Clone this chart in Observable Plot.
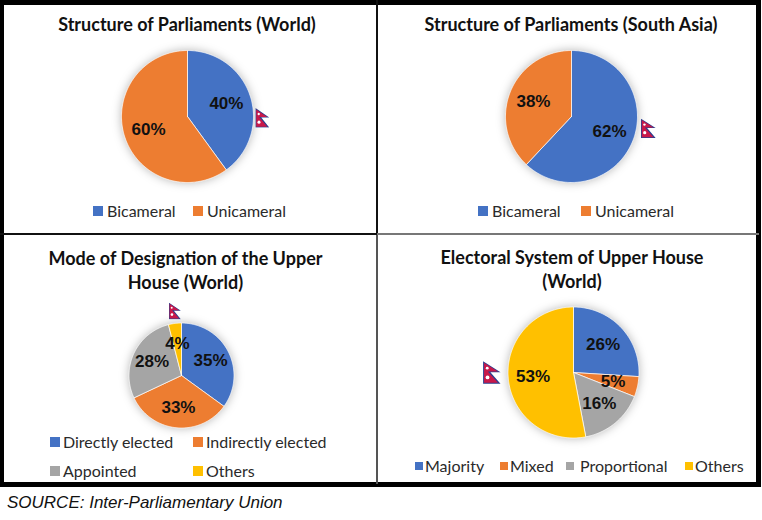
<!DOCTYPE html>
<html>
<head>
<meta charset="utf-8">
<script src="https://cdn.jsdelivr.net/npm/d3@7"></script>
<script src="https://cdn.jsdelivr.net/npm/@observablehq/plot@0.6"></script>
<style>
  body { margin: 0; background: #fff; }
  #root { position: relative; width: 762px; height: 520px; overflow: hidden; font-family: Lato, "Open Sans", sans-serif; }
  .frame { position: absolute; left: 0; top: 0; width: 761px; height: 487px; box-sizing: border-box;
           border-style: solid; border-color: #000; border-width: 5px 5px 5px 4px; }
  .div { position: absolute; }
  .title { position: absolute; font-weight: bold; font-size: 18px; text-align: center; color: #111; line-height: 24px; white-space: nowrap; }
  .legend { position: absolute; font-size: 16px; color: #2a2a2a; white-space: nowrap; line-height: 20px; }
  .sw { position: absolute; }
  .pie { position: absolute; width: 200px; height: 200px; }
  .pie g[aria-label="line"] { filter: drop-shadow(0 0 5px rgba(0,0,0,0.28)); }
  .source { position: absolute; left: 7px; top: 493px; font-family: "Liberation Sans", Arial, sans-serif; font-style: italic; font-size: 17px; color: #111; }
</style>
</head>
<body>
<div id="root"></div>
<script>
// ---------- data ----------
const palette = ["#4472C4", "#ED7D31", "#A5A5A5", "#FFC000"];

const worldStructureLabels = ["Bicameral", "Unicameral"];
const worldStructureValues = [40, 60];

const southAsiaStructureLabels = ["Bicameral", "Unicameral"];
const southAsiaStructureValues = [62, 38];

const designationLabels = ["Directly elected", "Indirectly elected", "Appointed", "Others"];
const designationValues = [35, 33, 28, 4];

const electoralLabels = ["Majority", "Mixed", "Proportional", "Others"];
const electoralValues = [26, 5, 16, 53];

const titles = [
  "Structure of Parliaments (World)",
  "Structure of Parliaments (South Asia)",
  "Mode of Designation of the Upper<br>House (World)",
  "Electoral System of Upper House<br>(World)"
];
const sourceText = "SOURCE: Inter-Parliamentary Union";

// ---------- Nepal flag (decoration) ----------
const flagSvg = `<svg xmlns="http://www.w3.org/2000/svg" viewBox="0 0 60 74">
<path d="M1,1 L56,36 L24,36 L56,73 L1,73 Z" fill="#2b3f8f"/>
<path d="M4,6 L48,34 L16,34 L48,70 L4,70 Z" fill="#C8184A"/>
<circle cx="14" cy="23" r="4.5" fill="#fff"/>
<circle cx="15" cy="53" r="6" fill="#fff"/>
</svg>`;
const flagSrc = "data:image/svg+xml," + encodeURIComponent(flagSvg);

const root = document.getElementById("root");

function add(html, cls, style) {
  const d = document.createElement("div");
  d.className = cls;
  Object.assign(d.style, style);
  d.innerHTML = html;
  root.appendChild(d);
  return d;
}

function pie({labels, values, cx, cy, r, flag, flagW, flagH}) {
  const total = d3.sum(values);
  let acc = 0;
  const slices = values.map((v, i) => {
    const a0 = acc / total * 2 * Math.PI;
    acc += v;
    const a1 = acc / total * 2 * Math.PI;
    return {label: labels[i], value: v, a0, a1};
  });
  const pts = [];
  for (const s of slices) {
    const n = Math.max(2, Math.ceil((s.a1 - s.a0) / (Math.PI / 180)));
    pts.push({label: s.label, x: 0, y: 0});
    for (let k = 0; k <= n; k++) {
      const a = s.a0 + (s.a1 - s.a0) * k / n;
      pts.push({label: s.label, x: Math.sin(a), y: Math.cos(a)});
    }
    pts.push({label: s.label, x: 0, y: 0});
  }
  const lbls = slices.map(s => {
    const m = (s.a0 + s.a1) / 2;
    return {label: s.label, value: s.value, x: 0.62 * Math.sin(m), y: 0.62 * Math.cos(m)};
  });
  const half = 100 / r;
  const chart = Plot.plot({
    width: 200, height: 200, margin: 0,
    style: {background: "none", overflow: "visible"},
    x: {domain: [-half, half], axis: null},
    y: {domain: [-half, half], axis: null},
    color: {domain: labels, range: palette},
    marks: [
      Plot.line(pts, {x: "x", y: "y", z: "label", fill: "label", stroke: "white", strokeWidth: 0.7, curve: "linear"}),
      Plot.text(lbls, {x: "x", y: "y", text: d => d.value + "%", fill: "#111", fontSize: 17, fontWeight: "bold",
                       fontFamily: "'Liberation Sans', Arial, sans-serif"}),
      Plot.image([flag], {x: d => d[0], y: d => d[1], src: flagSrc, width: flagW, height: flagH, preserveAspectRatio: "none"})
    ]
  });
  const wrap = add("", "pie", {left: (cx - 100) + "px", top: (cy - 100) + "px"});
  wrap.appendChild(chart);
}

function legendItem(label, color, sx, tx, y, size) {
  add("", "sw", {left: sx + "px", top: (y - size / 2) + "px", width: size + "px", height: size + "px", background: color});
  add(label, "legend", {left: tx + "px", top: (y - 10) + "px"});
}

// ---------- panels ----------
pie({labels: worldStructureLabels, values: worldStructureValues, cx: 187, cy: 116, r: 66, flag: [1.14, -0.02], flagW: 15, flagH: 20});
pie({labels: southAsiaStructureLabels, values: southAsiaStructureValues, cx: 571, cy: 116, r: 66, flag: [1.17, -0.18], flagW: 16, flagH: 20});
pie({labels: designationLabels, values: designationValues, cx: 180.5, cy: 374.5, r: 52.5, flag: [-0.12, 1.23], flagW: 13, flagH: 17});
pie({labels: electoralLabels, values: electoralValues, cx: 573, cy: 371.5, r: 65.5, flag: [-1.24, 0], flagW: 19, flagH: 23});

// frame and dividers
add("", "frame", {});
add("", "div", {left: "376px", top: "0px", width: "2px", height: "234px", background: "#111"});
add("", "div", {left: "376px", top: "234px", width: "2px", height: "250px", background: "#555"});
add("", "div", {left: "0px", top: "233px", width: "377px", height: "2px", background: "#111"});
add("", "div", {left: "377px", top: "233px", width: "382px", height: "2px", background: "#777"});

// titles
add(titles[0], "title", {left: (187 - 180) + "px", top: "12px", width: "360px"});
add(titles[1], "title", {left: (571 - 180) + "px", top: "12px", width: "360px"});
add(titles[2], "title", {left: (185.5 - 180) + "px", top: "246px", width: "360px"});
add(titles[3], "title", {left: (572 - 180) + "px", top: "245px", width: "360px"});

// legends
legendItem(worldStructureLabels[0], palette[0], 93, 107, 211, 10);
legendItem(worldStructureLabels[1], palette[1], 193, 207, 211, 10);
legendItem(southAsiaStructureLabels[0], palette[0], 478, 492, 211, 10);
legendItem(southAsiaStructureLabels[1], palette[1], 581, 595, 211, 10);
legendItem(designationLabels[0], palette[0], 50, 63, 442, 10);
legendItem(designationLabels[1], palette[1], 193, 206, 442, 10);
legendItem(designationLabels[2], palette[2], 50, 63, 471, 10);
legendItem(designationLabels[3], palette[3], 193, 206, 471, 10);
legendItem(electoralLabels[0], palette[0], 415, 425, 466, 8);
legendItem(electoralLabels[1], palette[1], 500, 510, 466, 8);
legendItem(electoralLabels[2], palette[2], 566, 580, 466, 8);
legendItem(electoralLabels[3], palette[3], 685, 695, 466, 8);

add(sourceText, "source", {});
</script>
</body>
</html>
